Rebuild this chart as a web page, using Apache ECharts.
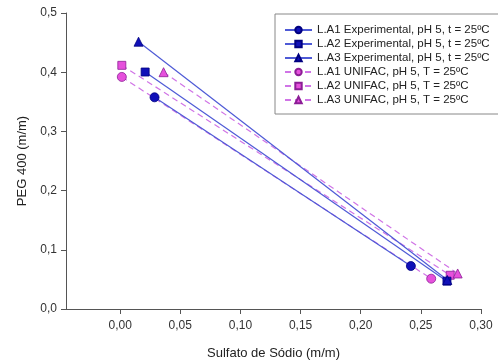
<!DOCTYPE html>
<html>
<head>
<meta charset="utf-8">
<script src="https://cdn.jsdelivr.net/npm/echarts@6/dist/echarts.min.js"></script>
<style>html,body{margin:0;padding:0;background:#fff}#c{width:498px;height:360px}</style>
</head>
<body>
<div id="c"></div>
<script>
var seriesNames = [
  'L.A1 Experimental, pH 5, t = 25ºC',
  'L.A2 Experimental, pH 5, t = 25ºC',
  'L.A3 Experimental, pH 5, t = 25ºC',
  'L.A1 UNIFAC, pH 5, T = 25ºC',
  'L.A2 UNIFAC, pH 5, T = 25ºC',
  'L.A3 UNIFAC, pH 5, T = 25ºC'
];
var la1Exp = [[0.0286, 0.3576], [0.2417, 0.0726]];
var la2Exp = [[0.0208, 0.4003], [0.2717, 0.0470]];
var la3Exp = [[0.0153, 0.4515], [0.2720, 0.0490]];
var la1Uni = [[0.0014, 0.3920], [0.2586, 0.0512]];
var la2Uni = [[0.0014, 0.4116], [0.2744, 0.0570]];
var la3Uni = [[0.0361, 0.4000], [0.2806, 0.0600]];
var xTicks = [0, 0.05, 0.10, 0.15, 0.20, 0.25, 0.30];
var yTicks = [0, 0.1, 0.2, 0.3, 0.4, 0.5];

var expLine = '#4e5ad6', expMark = '#1010b8', expBorder = '#000080';
var uniLine = '#d074e6', uniMark = '#e650dc', uniBorder = '#8c1e96';

function mk(name, data, symbol, size, isExp) {
  return {
    name: name, type: 'line', data: data, symbol: symbol, symbolSize: size,
    showSymbol: true,
    lineStyle: { color: isExp ? expLine : uniLine, width: 1.2, type: isExp ? 'solid' : [6, 4] },
    itemStyle: { color: isExp ? expMark : uniMark, borderColor: isExp ? expBorder : uniBorder, borderWidth: 0.8 },
    emphasis: { disabled: true },
    z: isExp ? 3 : 2
  };
}

var chart = echarts.init(document.getElementById('c'));
chart.setOption({
  animation: false,
  backgroundColor: '#fff',
  textStyle: { fontFamily: 'Liberation Sans, Arial, sans-serif' },
  grid: { left: 66, right: 17, top: 13, bottom: 51, containLabel: false, outerBoundsMode: 'none' },
  xAxis: {
    type: 'value', min: -0.045, max: 0.30,
    name: 'Sulfato de Sódio (m/m)', nameLocation: 'middle', nameGap: 38,
    nameTextStyle: { fontSize: 13, color: '#222' },
    axisLine: { show: true, onZero: false, lineStyle: { color: '#555', width: 1 } },
    axisTick: { show: true, customValues: xTicks, length: 5, lineStyle: { color: '#555' } },
    axisLabel: { customValues: xTicks, fontSize: 12, color: '#333', margin: 11,
      formatter: function (v) { return v.toFixed(2).replace('.', ','); } },
    splitLine: { show: false }
  },
  yAxis: {
    type: 'value', min: 0, max: 0.5, interval: 0.1,
    name: 'PEG 400 (m/m)', nameLocation: 'middle', nameGap: 37,
    nameTextStyle: { fontSize: 13, color: '#222' },
    axisLine: { show: true, onZero: false, lineStyle: { color: '#555', width: 1 } },
    axisTick: { show: true, length: 5, lineStyle: { color: '#555' } },
    axisLabel: { fontSize: 12, color: '#333', margin: 9,
      formatter: function (v) { return v.toFixed(1).replace('.', ','); } },
    splitLine: { show: false }
  },
  legend: {
    orient: 'vertical', left: 275, top: 14,
    padding: [9, 10, 7, 9], itemGap: 0, itemWidth: 27, itemHeight: 8,
    borderColor: '#888', borderWidth: 1, backgroundColor: '#fff',
    textStyle: { fontSize: 11.5, color: '#222', lineHeight: 14 },
    data: seriesNames
  },
  series: [
    mk(seriesNames[0], la1Exp, 'circle', 9, true),
    mk(seriesNames[1], la2Exp, 'rect', 8, true),
    mk(seriesNames[2], la3Exp, 'triangle', 9, true),
    mk(seriesNames[3], la1Uni, 'circle', 9, false),
    mk(seriesNames[4], la2Uni, 'rect', 8, false),
    mk(seriesNames[5], la3Uni, 'triangle', 9, false)
  ]
});
</script>
</body>
</html>
